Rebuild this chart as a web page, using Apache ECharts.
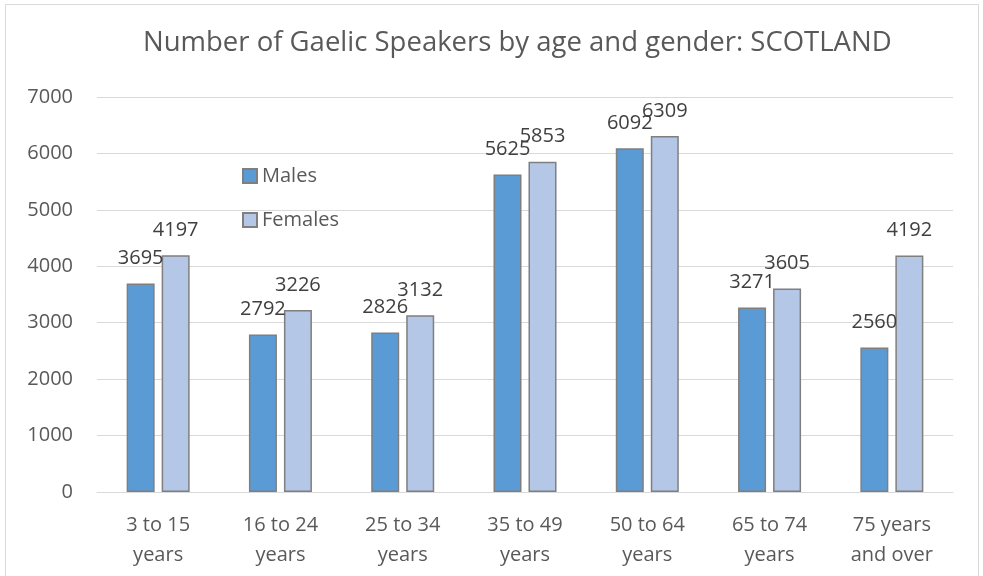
<!DOCTYPE html>
<html><head><meta charset="utf-8">
<script src="https://cdn.jsdelivr.net/npm/echarts@6/dist/echarts.min.js"></script>
<style>html,body{margin:0;padding:0;background:#fff}#c{width:983px;height:576px}</style>
</head><body><div id="c"></div>
<script>
const categories = ['3 to 15\nyears','16 to 24\nyears','25 to 34\nyears','35 to 49\nyears','50 to 64\nyears','65 to 74\nyears','75 years\nand over'];
const males = [3695, 2792, 2826, 5625, 6092, 3271, 2560];
const females = [4197, 3226, 3132, 5853, 6309, 3605, 4192];
const yTicks = [0, 1000, 2000, 3000, 4000, 5000, 6000, 7000];

const font = '"Open Sans", "Liberation Sans", sans-serif';
const chart = echarts.init(document.getElementById('c'));
chart.setOption({
  animation: false,
  textStyle: {fontFamily: font},
  graphic: [{type:'rect', shape:{x:5.5,y:4.5,width:973,height:580}, style:{fill:null, stroke:'#d9d9d9', lineWidth:1}}],
  title: {text: 'Number of Gaelic Speakers by age and gender: SCOTLAND', left: 138, top: 24,
    textStyle: {fontFamily: font, fontSize: 27.5, fontWeight: 'normal', color: '#595959'}},
  legend: {orient: 'vertical', left: 237, top: 161, icon: 'rect', itemWidth: 14, itemHeight: 14, itemGap: 24,
    textStyle: {fontFamily: font, fontSize: 20, color: '#595959'}, data: ['Males','Females']},
  grid: {left: 97, right: 30, top: 97, bottom: 84},
  xAxis: {type: 'category', data: categories,
    axisLine: {lineStyle: {color: '#d9d9d9'}}, axisTick: {show: false},
    axisLabel: {fontFamily: font, fontSize: 20, color: '#595959', lineHeight: 30, margin: 18}},
  yAxis: {type: 'value', min: yTicks[0], max: yTicks[yTicks.length-1], interval: 1000,
    axisLine: {show: false}, axisTick: {show: false},
    splitLine: {lineStyle: {color: '#d9d9d9'}},
    axisLabel: {fontFamily: font, fontSize: 20, color: '#595959', margin: 24, formatter: v => String(v)}},
  series: [
    {name: 'Males', type: 'bar', data: males, barWidth: 28, barGap: '25%',
     itemStyle: {color: '#5b9bd5', borderColor: '#7f7f7f', borderWidth: 1.5},
     label: {show: true, position: 'top', distance: 15, fontFamily: font, fontSize: 20, color: '#404040'}},
    {name: 'Females', type: 'bar', data: females, barWidth: 28,
     itemStyle: {color: '#b4c7e7', borderColor: '#7f7f7f', borderWidth: 1.5},
     label: {show: true, position: 'top', distance: 15, fontFamily: font, fontSize: 20, color: '#404040'}}
  ]
});
</script></body></html>
